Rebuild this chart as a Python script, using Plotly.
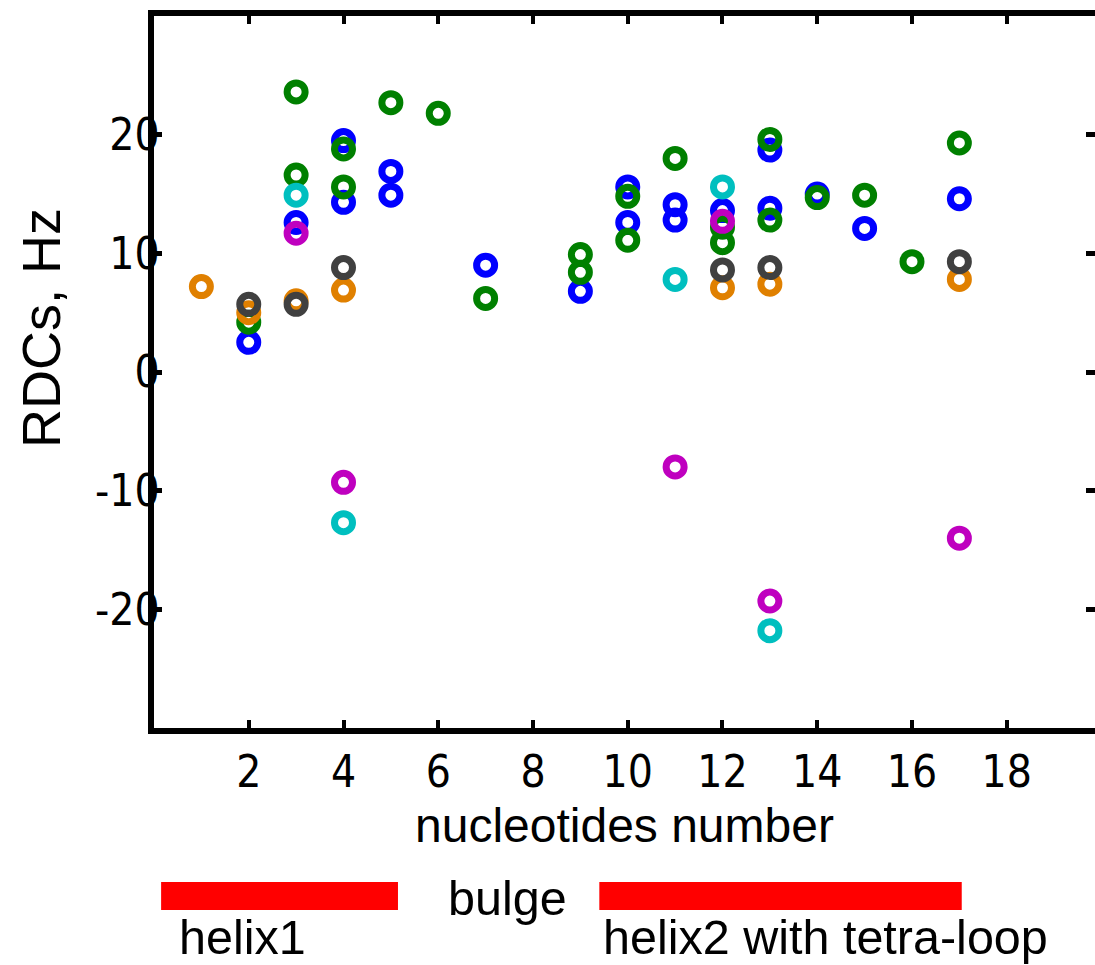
import plotly.graph_objects as go

# ---- data ----
x_tick_vals = [2, 4, 6, 8, 10, 12, 14, 16, 18]
y_tick_vals = [-20, -10, 0, 10, 20]
y_tick_text = [str(v) for v in y_tick_vals]

blue_x = [2, 3, 4, 4, 5, 5, 7, 9, 10, 10, 11, 11, 12, 13, 13, 14, 15, 17]
blue_y = [2.5, 12.6, 19.5, 14.3, 16.9, 14.9, 9.0, 6.8, 15.6, 12.6, 14.1, 12.8, 13.6, 18.7, 13.8, 15.0, 12.1, 14.6]

green_x = [2, 3, 3, 4, 4, 5, 6, 7, 9, 9, 10, 10, 11, 12, 12, 13, 13, 14, 15, 16, 17]
green_y = [4.2, 23.6, 16.6, 18.8, 15.6, 22.7, 21.8, 6.2, 9.9, 8.4, 14.8, 11.1, 18.0, 12.2, 10.9, 19.6, 12.8, 14.7, 14.9, 9.3, 19.3]

cyan_x = [3, 4, 11, 12, 13]
cyan_y = [14.9, -12.7, 7.8, 15.6, -21.8]

magenta_x = [3, 4, 11, 12, 13, 17]
magenta_y = [11.7, -9.3, -8.0, 12.7, -19.3, -14.0]

orange_x = [1, 2, 3, 4, 12, 13, 17]
orange_y = [7.2, 5.0, 6.0, 6.9, 7.1, 7.4, 7.8]

gray_x = [2, 3, 4, 12, 13, 17]
gray_y = [5.7, 5.7, 8.8, 8.6, 8.8, 9.3]

region_labels = ["helix1", "helix2 with tetra-loop"]
region_start = [0.15, 9.4]
region_end = [5.15, 17.05]
region_label_x = [0.0245, 0.4745]   # paper coords of label left edges

series = [
    (blue_x, blue_y, "#0000FF"),
    (green_x, green_y, "#008000"),
    (cyan_x, cyan_y, "#00BFBF"),
    (magenta_x, magenta_y, "#BF00BF"),
    (orange_x, orange_y, "#E08000"),
    (gray_x, gray_y, "#404040"),
]

fig = go.Figure()
for xs, ys, col in series:
    fig.add_trace(go.Scatter(
        x=xs, y=ys, mode="markers",
        marker=dict(symbol="circle-open", size=18, color=col,
                    line=dict(width=7, color=col)),
        showlegend=False, hoverinfo="skip"))

# invisible traces for the right-side tick axis and the tick-label axis
fig.add_trace(go.Scatter(x=[None], y=[None], yaxis="y2", showlegend=False, hoverinfo="skip"))
fig.add_trace(go.Scatter(x=[None], y=[None], yaxis="y3", showlegend=False, hoverinfo="skip"))

tick_font = dict(family="Liberation Sans Narrow, DejaVu Sans Condensed, Arial Narrow, sans-serif",
                 size=44, color="black")
text_font = dict(family="Liberation Sans, Arial, sans-serif", size=48.5, color="black")

fig.update_layout(
    width=1095, height=965,
    margin=dict(l=154, r=0, t=16, b=237),
    plot_bgcolor="white", paper_bgcolor="white",
    showlegend=False,
    xaxis=dict(range=[0, 19.863], tickvals=x_tick_vals, ticks="inside", ticklen=8,
               tickwidth=4, tickcolor="black", showline=True, linewidth=6,
               linecolor="black", mirror="ticks", showgrid=False, zeroline=False,
               tickfont=tick_font),
    yaxis=dict(range=[-30, 30], tickvals=y_tick_vals,
               ticks="inside", ticklen=8, showticklabels=False,
               tickwidth=5, tickcolor="black", showline=True, linewidth=6,
               linecolor="black", mirror=False, showgrid=False, zeroline=False),
    yaxis2=dict(range=[-30, 30], tickvals=y_tick_vals, ticks="inside", ticklen=9,
                tickwidth=5, tickcolor="black", showline=False, overlaying="y",
                side="right", showticklabels=False, showgrid=False, zeroline=False),
    yaxis3=dict(range=[-30, 30], tickvals=y_tick_vals, ticktext=y_tick_text,
                ticks="", showline=False, overlaying="y", anchor="free", position=0.006,
                side="left", showgrid=False, zeroline=False, tickfont=tick_font),
)

# y-axis and x-axis titles
fig.add_annotation(text="RDCs, Hz", xref="paper", yref="paper", x=-0.12, y=0.562,
                   textangle=-90, showarrow=False, font=dict(text_font, size=54),
                   xanchor="center", yanchor="middle")
fig.add_annotation(text="nucleotides number", xref="paper", yref="paper", x=0.5005, y=-0.1376,
                   showarrow=False, font=dict(text_font, size=48),
                   xanchor="center", yanchor="middle")

# secondary-structure bars
for lab, s, e, lx in zip(region_labels, region_start, region_end, region_label_x):
    fig.add_shape(type="rect", xref="x", yref="paper", x0=s, x1=e, y0=-0.2556, y1=-0.2163,
                  fillcolor="#FF0000", line=dict(width=0))
    fig.add_annotation(text=lab, xref="paper", yref="paper", x=lx, y=-0.2936,
                       showarrow=False, font=text_font, xanchor="left", yanchor="middle")

fig.add_annotation(text="bulge", xref="paper", yref="paper", x=0.376, y=-0.2388,
                   showarrow=False, font=text_font, xanchor="center", yanchor="middle")

fig.write_html("out.html",
               config={"displayModeBar": False},
               post_script="document.body.style.margin='0';"
                           "document.documentElement.style.overflow='hidden';")
